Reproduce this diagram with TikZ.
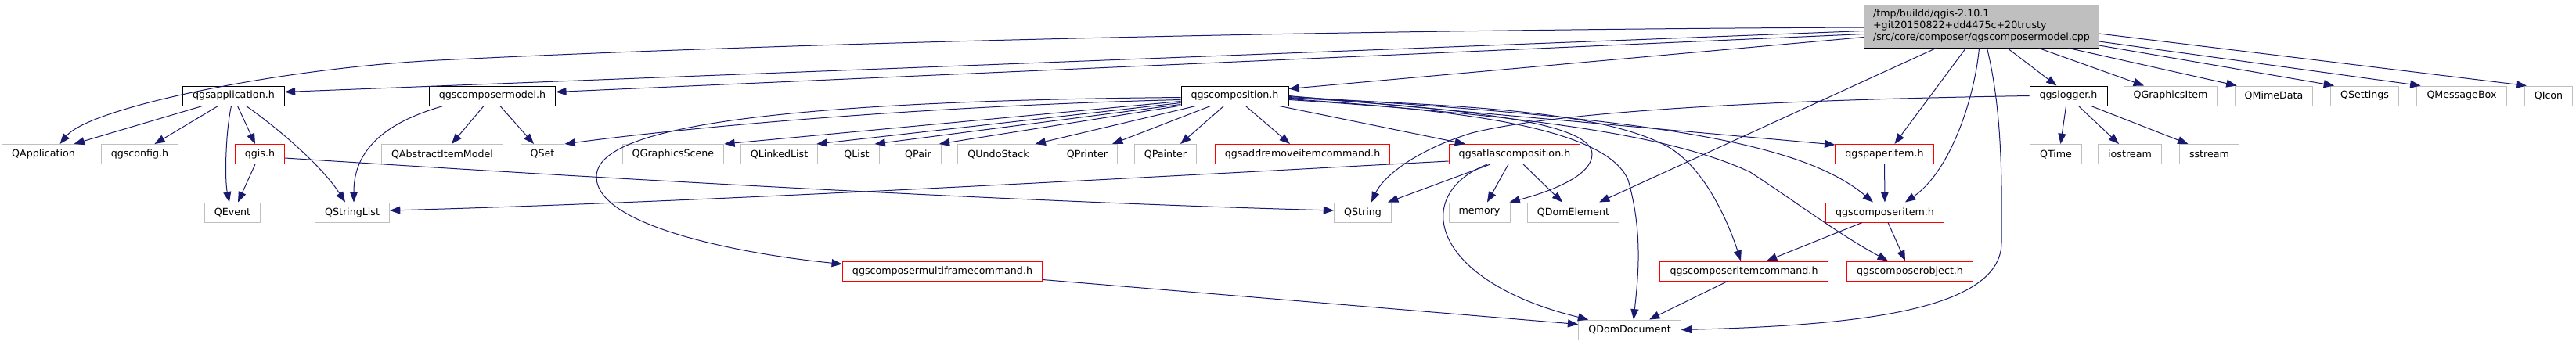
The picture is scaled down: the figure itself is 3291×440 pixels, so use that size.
\documentclass[tikz,border=0pt]{standalone}
\usepackage{fontspec}
\setmainfont{DejaVu Sans}
\usetikzlibrary{arrows.meta,calc}
\definecolor{edgeblue}{HTML}{191970}
\definecolor{boxgray}{HTML}{BFBFBF}
\tikzset{
  hdr/.style={draw=boxgray, line width=0.75pt, fill=white, minimum height=18.75pt,
    inner xsep=9.4pt, inner ysep=0pt, font=\fontsize{9.5}{11.25}\selectfont},
  trunc/.style={hdr, draw=red},
  expd/.style={hdr, draw=black},
  srcfile/.style={hdr, draw=black, fill=boxgray, align=left, inner xsep=8.5pt, minimum height=41.25pt},
  incl/.style={-{Triangle[length=10pt,width=7.5pt]}, edgeblue, line width=0.75pt}
}

\begin{document}
\begin{tikzpicture}[x=0.75pt,y=-0.75pt]
  \useasboundingbox (0,0) rectangle (3291,440);
  % root file
  \node[srcfile] (root) at (2531.5,33.5) {/tmp/buildd/qgis-2.10.1\\+git20150822+dd4475c+20trusty\\/src/core/composer/qgscomposermodel.cpp};
  % first row
  \node[expd] (qgsapp) at (298.5,122.5) {qgsapplication.h};
  \node[expd] (qgscompmodel) at (629,122.5) {qgscomposermodel.h};
  \node[expd] (qgscomp) at (1577.5,122.5) {qgscomposition.h};
  \node[expd] (qgslogger) at (2642.5,122.5) {qgslogger.h};
  \node[hdr] (qgraphicsitem) at (2773,122.5) {QGraphicsItem};
  \node[hdr] (qmimedata) at (2905,122.5) {QMimeData};
  \node[hdr] (qsettings) at (3021,122.5) {QSettings};
  \node[hdr] (qmessagebox) at (3145,122.5) {QMessageBox};
  \node[hdr] (qicon) at (3256,122.5) {QIcon};
  % second row
  \node[hdr] (qapplication) at (55.5,197) {QApplication};
  \node[hdr] (qgsconfig) at (178.5,197) {qgsconfig.h};
  \node[trunc] (qgis) at (332,197) {qgis.h};
  \node[hdr] (qabstractitemmodel) at (565,197) {QAbstractItemModel};
  \node[hdr] (qset) at (693,197) {QSet};
  \node[hdr] (qgraphicsscene) at (860,197) {QGraphicsScene};
  \node[hdr] (qlinkedlist) at (995.5,197) {QLinkedList};
  \node[hdr] (qlist) at (1094.5,197) {QList};
  \node[hdr] (qpair) at (1173,197) {QPair};
  \node[hdr] (qundostack) at (1275.5,197) {QUndoStack};
  \node[hdr] (qprinter) at (1389,197) {QPrinter};
  \node[hdr] (qpainter) at (1489,197) {QPainter};
  \node[trunc] (qgsaddremove) at (1664,197) {qgsaddremoveitemcommand.h};
  \node[trunc] (qgsatlas) at (1935,197) {qgsatlascomposition.h};
  \node[trunc] (qgspaperitem) at (2407.5,197) {qgspaperitem.h};
  \node[hdr] (qtime) at (2626.5,197) {QTime};
  \node[hdr] (iostream) at (2721,197) {iostream};
  \node[hdr] (sstream) at (2822.5,197) {sstream};
  % third row
  \node[hdr] (qevent) at (297,271.5) {QEvent};
  \node[hdr] (qstringlist) at (450,271.5) {QStringList};
  \node[hdr] (qstring) at (1741,271.5) {QString};
  \node[hdr] (memory) at (1890,271.5) {memory};
  \node[hdr] (qdomelement) at (2010,271.5) {QDomElement};
  \node[trunc] (qgscompitem) at (2408,271.5) {qgscomposeritem.h};
  % fourth and fifth row
  \node[trunc] (qgsmultiframecmd) at (1204,346.5) {qgscomposermultiframecommand.h};
  \node[trunc] (qgsitemcmd) at (2228,346.5) {qgscomposeritemcommand.h};
  \node[trunc] (qgsobject) at (2440,346.5) {qgscomposerobject.h};
  \node[hdr] (qdomdocument) at (2082,421.5) {QDomDocument};

  % root includes
  \draw[incl] ($(root.west)+(0,1.5)$) .. controls (1700,38) and (1000,55) .. (560,77)
    .. controls (360,87) and (115,137) .. ($(qapplication.north)+(21,0)$);
  \draw[incl] ($(root.west)+(0,6)$) -- ($(qgsapp.east)+(0,-5)$);
  \draw[incl] ($(root.west)+(0,10)$) -- ($(qgscompmodel.east)+(0,-5)$);
  \draw[incl] ($(root.west)+(0,14)$) -- ($(qgscomp.east)+(0,-9)$);
  \draw[incl] ($(root.south)+(-58,0)$) -- ($(qdomelement.north)+(33,0)$);
  \draw[incl] ($(root.south)+(-20,0)$) -- ($(qgspaperitem.north)+(13,0)$);
  \draw[incl] ($(root.south)+(-3,0)$) .. controls (2522,130) and (2490,220) .. ($(qgscompitem.north)+(26,0)$);
  \draw[incl] ($(root.south)+(7,0)$) .. controls (2560,150) and (2557,250) .. (2557,310)
    .. controls (2557,395) and (2380,416) .. (qdomdocument.east);
  \draw[incl] ($(root.south)+(33,0)$) -- ($(qgslogger.north)+(-15,0)$);
  \draw[incl] ($(root.south)+(73,0)$) -- ($(qgraphicsitem.north)+(-34,0)$);
  \draw[incl] ($(root.south)+(111,0)$) -- ($(qmimedata.north west)+(3,0)$);
  \draw[incl] ($(root.east)+(0,24.5)$) -- ($(qsettings.north west)+(5,0)$);
  \draw[incl] ($(root.east)+(0,19.5)$) -- ($(qmessagebox.north west)+(5,0)$);
  \draw[incl] ($(root.east)+(0,9.5)$) -- ($(qicon.north west)+(3,0)$);

  % qgsapplication.h and qgis.h
  \draw[incl] ($(qgsapp.south)+(-40,0)$) -- ($(qapplication.north)+(39,0)$);
  \draw[incl] ($(qgsapp.south)+(-20,0)$) -- ($(qgsconfig.north)+(19,0)$);
  \draw[incl] ($(qgsapp.south)+(-3,0)$) .. controls (288,170) and (287,230) .. ($(qevent.north)+(-4,0)$);
  \draw[incl] ($(qgsapp.south)+(5,0)$) -- ($(qgis.north)+(-6,0)$);
  \draw[incl] ($(qgsapp.south)+(16,0)$) .. controls (350,160) and (410,210) .. ($(qstringlist.north)+(-9,0)$);
  \draw[incl] ($(qgis.south)+(-6,0)$) -- ($(qevent.north)+(7,0)$);
  \draw[incl] ($(qgis.east)+(0,5)$) .. controls (800,230) and (1300,258) .. ($(qstring.west)+(0,-2.5)$);

  % qgscomposermodel.h
  \draw[incl] ($(qgscompmodel.south)+(-63,0)$) .. controls (480,160) and (452,200) .. ($(qstringlist.north)+(2,0)$);
  \draw[incl] ($(qgscompmodel.south)+(-11,0)$) -- ($(qabstractitemmodel.north)+(12,0)$);
  \draw[incl] ($(qgscompmodel.south)+(10,0)$) -- ($(qset.north)+(-11,0)$);

  % qgscomposition.h
  \draw[incl] ($(qgscomp.west)+(0,5)$) .. controls (1200,135) and (900,160) .. (qset.north east);
  \draw[incl] ($(qgscomp.west)+(0,2)$) .. controls (900,130) and (760,175) .. (762,227)
    .. controls (764,290) and (950,325) .. ($(qgsmultiframecmd.west)+(0,-9)$);
  \draw[incl] ($(qgscomp.west)+(0,7)$) -- (qgraphicsscene.north east);
  \draw[incl] ($(qgscomp.west)+(0,9)$) -- ($(qlinkedlist.north east)+(-2,0)$);
  \draw[incl] ($(qgscomp.west)+(0,11)$) -- ($(qlist.north east)+(-6,0)$);
  \draw[incl] ($(qgscomp.west)+(0,12.5)$) -- ($(qpair.north east)+(-3,0)$);
  \draw[incl] ($(qgscomp.south west)+(19,0)$) -- ($(qundostack.north east)+(-5,0)$);
  \draw[incl] ($(qgscomp.south)+(-31,0)$) -- ($(qprinter.north)+(32,0)$);
  \draw[incl] ($(qgscomp.south)+(-14,0)$) -- ($(qpainter.north)+(19,0)$);
  \draw[incl] ($(qgscomp.south)+(14,0)$) -- ($(qgsaddremove.north)+(-16,0)$);
  \draw[incl] ($(qgscomp.south)+(57,0)$) -- ($(qgsatlas.north)+(-63,0)$);
  \draw[incl] ($(qgscomp.east)+(0,4)$) .. controls (1850,140) and (2050,160) .. (2080,230)
    .. controls (2100,300) and (2092,360) .. ($(qdomdocument.north)+(5,0)$);
  \draw[incl] ($(qgscomp.east)+(0,2)$) .. controls (1900,140) and (2034,160) .. (2034,197)
    .. controls (2034,225) and (1980,245) .. ($(memory.north east)+(-1,0)$);
  \draw[incl] (qgscomp.east) -- ($(qgspaperitem.north west)+(0,1)$);
  \draw[incl] ($(qgscomp.east)+(0,1)$) .. controls (2100,150) and (2300,180) .. ($(qgscompitem.north)+(-15,0)$);
  \draw[incl] ($(qgscomp.east)+(0,3)$) .. controls (1900,135) and (2050,145) .. (2130,187)
    .. controls (2180,215) and (2210,290) .. ($(qgsitemcmd.north)+(-4,0)$);
  \draw[incl] ($(qgscomp.east)+(0,5)$) .. controls (2000,150) and (2150,180) .. (2236,220)
    .. controls (2300,262) and (2350,300) .. ($(qgsobject.north)+(-28,0)$);

  % qgsatlascomposition.h
  \draw[incl] ($(qgsatlas.west)+(0,9)$) .. controls (1400,230) and (900,258) .. ($(qstringlist.east)+(0,-2.5)$);
  \draw[incl] ($(qgsatlas.south)+(-31,0)$) -- ($(qstring.north)+(32,0)$);
  \draw[incl] ($(qgsatlas.south)+(-8,0)$) -- ($(memory.north)+(10,0)$);
  \draw[incl] ($(qgsatlas.south)+(11,0)$) -- ($(qdomelement.north)+(-14,0)$);
  \draw[incl] ($(qgsatlas.south)+(-35,0)$) .. controls (1800,250) and (1830,360) .. ($(qdomdocument.north west)+(13,0)$);

  % qgslogger.h
  \draw[incl] (qgslogger.west) .. controls (2300,127) and (2000,140) .. (1880,170)
    .. controls (1800,195) and (1765,230) .. ($(qstring.north)+(11,0)$);
  \draw[incl] ($(qgslogger.south)+(-3,0)$) -- ($(qtime.north)+(6,0)$);
  \draw[incl] ($(qgslogger.south)+(13,0)$) -- ($(iostream.north)+(-14,0)$);
  \draw[incl] ($(qgslogger.south)+(29,0)$) -- ($(sstream.north)+(-27,0)$);

  % composer items
  \draw[incl] (qgspaperitem) -- (qgscompitem);
  \draw[incl] ($(qgscompitem.south)+(-29,0)$) -- ($(qgsitemcmd.north)+(29,0)$);
  \draw[incl] ($(qgscompitem.south)+(4,0)$) -- ($(qgsobject.north)+(-6,0)$);
  \draw[incl] ($(qgsitemcmd.south)+(-21,0)$) -- ($(qdomdocument.north)+(25,0)$);
  \draw[incl] ($(qgsmultiframecmd.east)+(0,11)$) -- ($(qdomdocument.west)+(0,-7)$);
\end{tikzpicture}
\end{document}
